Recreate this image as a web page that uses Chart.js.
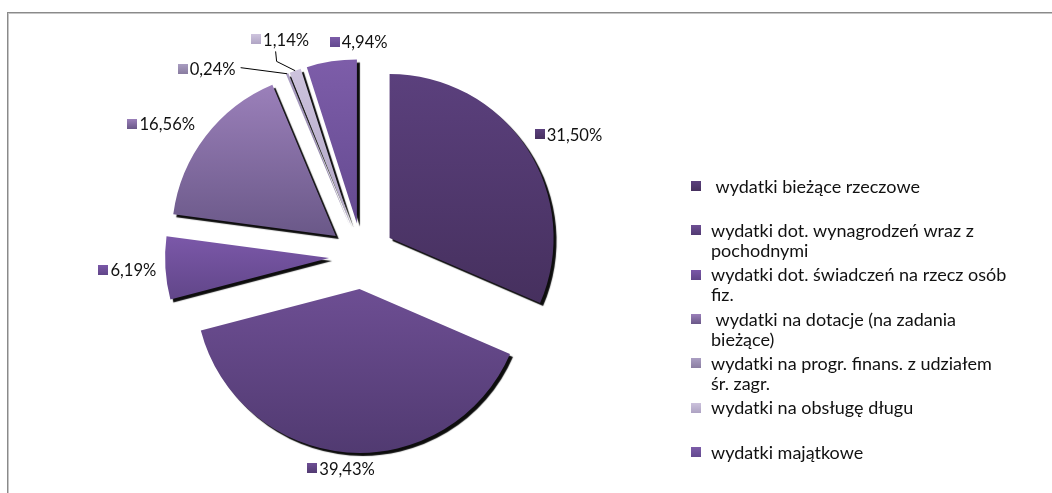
<!DOCTYPE html>
<html><head><meta charset="utf-8">
<script src="https://cdn.jsdelivr.net/npm/chart.js@4.4.1/dist/chart.umd.min.js"></script>
<style>
html,body{margin:0;padding:0;background:#fff;}
#wrap{position:relative;width:1052px;height:493px;overflow:hidden;}
#frame{position:absolute;left:7px;top:12px;width:1100px;height:600px;border-top:1px solid #8a8a8a;border-left:1px solid #8a8a8a;box-shadow:inset 1px 1px 0 #c6c6c6;}
canvas{position:absolute;left:0;top:0;}
</style></head><body>
<div id="wrap"><div id="frame"></div><canvas id="c" width="1052" height="493"></canvas></div>
<script>
// ---- data ----
// category names, split into the lines in which the legend shows them
const categories = [
  [' wydatki bieżące rzeczowe'],
  ['wydatki dot. wynagrodzeń wraz z', 'pochodnymi'],
  ['wydatki dot. świadczeń na rzecz osób', 'fiz.'],
  [' wydatki na dotacje (na zadania', 'bieżące)'],
  ['wydatki na progr. finans. z udziałem', 'śr. zagr.'],
  ['wydatki na obsługę długu'],
  ['wydatki majątkowe']
];
const shares = [31.50, 39.43, 6.19, 16.56, 0.24, 1.14, 4.94];
const shareLabels = ['31,50%', '39,43%', '6,19%', '16,56%', '0,24%', '1,14%', '4,94%'];

// ---- style ----
const topColors    = ['#5b407d', '#6d4e93', '#7b58a9', '#9b80ba', '#aa9ec2', '#cdc3dd', '#7d5da9'];
const bottomColors = ['#46305e', '#513a71', '#614689', '#6a5888', '#8a7da1', '#afa4c4', '#644a90'];
const RADIUS = 164;
const EXPLODE = 33;
const FONT = 'Lato, "Open Sans", sans-serif';
const TEXT_COLOR = '#111';

function sliceAngles(i) {
  const total = shares.reduce((a, b) => a + b, 0);
  let cum = 0;
  for (let k = 0; k < i; k++) cum += shares[k];
  const a0 = -Math.PI / 2 + 2 * Math.PI * cum / total;
  const a1 = a0 + 2 * Math.PI * shares[i] / total;
  return [a0, a1];
}

function sliceGradient(context) {
  const chart = context.chart, area = chart.chartArea, i = context.dataIndex;
  if (!area || i === undefined) return topColors[i || 0];
  const [a0, a1] = sliceAngles(i);
  const mid = (a0 + a1) / 2;
  const cy = (area.top + area.bottom) / 2 + Math.sin(mid) * EXPLODE;
  let ymin = cy, ymax = cy;
  for (let s = 0; s <= 60; s++) {
    const a = a0 + (a1 - a0) * s / 60;
    const y = cy + RADIUS * Math.sin(a);
    ymin = Math.min(ymin, y); ymax = Math.max(ymax, y);
  }
  const g = chart.ctx.createLinearGradient(0, ymin, 0, ymax + 0.01);
  g.addColorStop(0, topColors[i]);
  g.addColorStop(1, bottomColors[i]);
  return g;
}

function vGrad(ctx, y0, y1, i) {
  const g = ctx.createLinearGradient(0, y0, 0, y1);
  g.addColorStop(0, topColors[i]);
  g.addColorStop(1, bottomColors[i]);
  return g;
}

// explode every slice outwards along its mid angle
const explodePlugin = {
  id: 'explode',
  afterDatasetsUpdate(chart) {
    chart.getDatasetMeta(0).data.forEach(arc => {
      const mid = (arc.startAngle + arc.endAngle) / 2;
      arc.x += Math.cos(mid) * EXPLODE;
      arc.y += Math.sin(mid) * EXPLODE;
    });
  }
};

// label placement relative to the point just outside each slice
const labelPlace = [
  {align: 'left',   dx: -2,  dy: -7},
  {align: 'center', dx: -5,  dy: 4},
  {align: 'right',  dx: 3,   dy: 1},
  {align: 'right',  dx: -1,  dy: -5},
  {align: 'right',  dx: -47, dy: 6,   leader: 'straight'},
  {align: 'center', dx: -11, dy: -20, leader: 'bent'},
  {align: 'left',   dx: 0,   dy: -8}
];

const shadowPlugin = {
  id: 'shadowAndLabels',
  beforeDatasetsDraw(chart) {
    const c = chart.ctx;
    c.save();
    c.shadowColor = 'rgba(0,0,0,0.95)';
    c.shadowOffsetX = 3;
    c.shadowOffsetY = 3;
    c.shadowBlur = 1;
  },
  afterDatasetsDraw(chart) {
    const c = chart.ctx;
    c.restore();
    c.save();
    c.font = '16.6px ' + FONT;
    c.textBaseline = 'middle';
    const arcs = chart.getDatasetMeta(0).data;
    arcs.forEach((arc, i) => {
      const mid = (arc.startAngle + arc.endAngle) / 2;
      const ax = arc.x + Math.cos(mid) * (arc.outerRadius + 12);
      const ay = arc.y + Math.sin(mid) * (arc.outerRadius + 12);
      const p = labelPlace[i];
      const tw = c.measureText(shareLabels[i]).width;
      const bw = 10 + 2 + tw;
      let left = ax + p.dx;
      if (p.align === 'right') left = ax + p.dx - bw;
      else if (p.align === 'center') left = ax + p.dx - bw / 2;
      const y = ay + p.dy;
      c.fillStyle = vGrad(c, y - 5, y + 5, i);
      c.fillRect(Math.round(left), Math.round(y - 5), 10, 10);
      c.fillStyle = TEXT_COLOR;
      c.textAlign = 'left';
      c.fillText(shareLabels[i], left + 12, y + 1);
      if (p.leader) {
        const tx = arc.x + Math.cos(mid) * arc.outerRadius;
        const ty = arc.y + Math.sin(mid) * arc.outerRadius;
        c.strokeStyle = '#000';
        c.lineWidth = 1;
        c.beginPath();
        if (p.leader === 'straight') {
          c.moveTo(left + bw + 5, y - 1);
          c.lineTo(tx, ty);
        } else {
          c.moveTo(left + 24.5, y + 12);
          c.lineTo(left + 25.5, y + 22);
          c.lineTo(tx, ty);
        }
        c.stroke();
      }
    });
    c.restore();
  }
};

// legend on the right
const legendPlugin = {
  id: 'sideLegend',
  afterDraw(chart) {
    const c = chart.ctx;
    c.save();
    c.font = '18px ' + FONT;
    c.textBaseline = 'middle';
    c.textAlign = 'left';
    const sqX = 691, txX = 711, y0 = 186, step = 44.3, lineH = 20;
    chart.data.labels.forEach((lines, i) => {
      const y = y0 + step * i;
      c.fillStyle = vGrad(c, y - 5, y + 5, i);
      c.fillRect(sqX, Math.round(y - 5), 10, 10);
      c.fillStyle = TEXT_COLOR;
      lines.forEach((ln, j) => c.fillText(ln, txX, y + 1 + j * lineH));
    });
    c.restore();
  }
};

new Chart(document.getElementById('c'), {
  type: 'pie',
  data: {
    labels: categories,
    datasets: [{
      data: shares,
      backgroundColor: sliceGradient,
      borderWidth: 0,
      hoverOffset: 0
    }]
  },
  options: {
    responsive: false,
    animation: false,
    events: [],
    radius: RADIUS,
    layout: {padding: {left: 20, right: 348, top: 29, bottom: 10}},
    plugins: {legend: {display: false}, tooltip: {enabled: false}}
  },
  plugins: [explodePlugin, shadowPlugin, legendPlugin]
});
</script>
</body></html>
